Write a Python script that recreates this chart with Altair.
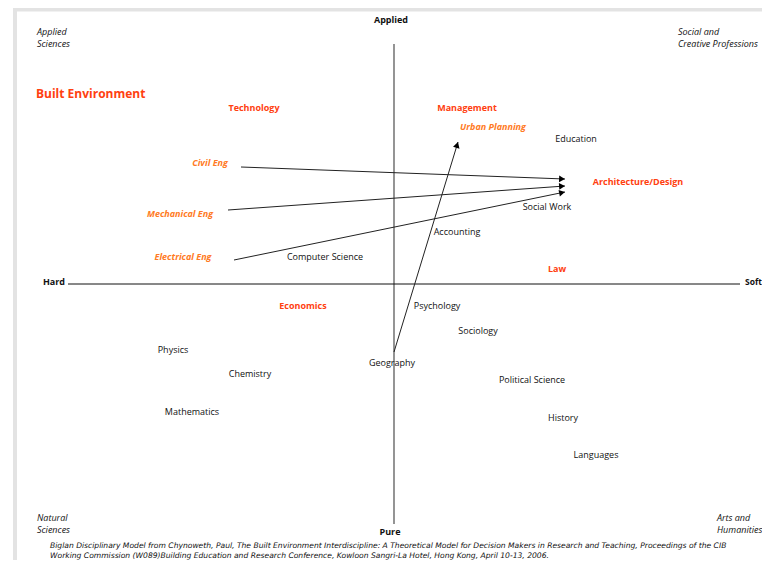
import altair as alt
import pandas as pd
import numpy as np

FONT = "Open Sans"
FOOT_FONT = "DejaVu Sans"

# ---- Discipline labels, positioned on the Hard(left)–Soft(right) / Pure(bottom)–Applied(top) plane
# (coordinates expressed in layout pixels of the 770x568 diagram)
disc_labels = ["Technology", "Management", "Architecture/Design", "Law", "Economics",
               "Urban Planning", "Civil Eng", "Mechanical Eng", "Electrical Eng",
               "Education", "Social Work", "Accounting", "Computer Science", "Psychology",
               "Sociology", "Physics", "Geography", "Chemistry", "Political Science",
               "Mathematics", "History", "Languages"]
disc_x = [254, 467, 638, 557, 303,
          493, 210, 180, 183,
          576, 547, 457, 325, 437,
          478, 173, 392, 250, 532,
          192, 563, 596]
disc_y = [108, 108, 182, 269, 306,
          127, 163, 214, 257,
          139, 207, 232, 257, 306,
          331, 350, 363, 374, 380,
          412, 418, 455]
disc_kind = ["red", "red", "red", "red", "red",
             "orange", "orange", "orange", "orange",
             "plain", "plain", "plain", "plain", "plain",
             "plain", "plain", "plain", "plain", "plain",
             "plain", "plain", "plain"]

# ---- Arrows (movement toward Architecture/Design and Urban Planning)
arrow_from = ["Civil Eng", "Mechanical Eng", "Electrical Eng", "Geography"]
arrow_x1 = [241, 228, 234, 394]
arrow_y1 = [167, 210, 260, 352]
arrow_x2 = [565, 565, 565, 458]
arrow_y2 = [179, 186, 192, 142]

# ---- Axis poles and quadrant captions
pole_labels = ["Applied", "Pure", "Hard"]
pole_x = [391, 390, 54]
pole_y = [20, 532, 282]
soft_label, soft_x, soft_y = "Soft", 762, 282

corner_labels = ["Applied\nSciences", "Social and\nCreative Professions",
                 "Natural\nSciences", "Arts and\nHumanities"]
corner_x = [37, 678, 37, 717]
corner_y = [28, 28, 514, 514]

title_text = "Built Environment"
title_x, title_y = 36, 94

foot_lines = ["Biglan Disciplinary Model from Chynoweth, Paul, The Built Environment Interdiscipline: A Theoretical Model for Decision Makers in Research and Teaching, Proceedings of the CIB\nWorking Commission (W089)Building Education and Research Conference, Kowloon Sangri-La Hotel, Hong Kong, April 10-13, 2006."]
foot_x, foot_y = [50], [542]

# axis lines of the diagram
center_x, center_y = 394, 284
vaxis = pd.DataFrame({"x": [center_x], "y": [44], "y2": [524]})
haxis = pd.DataFrame({"y": [center_y], "x": [68], "x2": [740]})

# frame (slide border)
frame_top = pd.DataFrame({"x": [13], "x2": [770], "y": [9.5]})
frame_left = pd.DataFrame({"x": [15], "y": [8], "y2": [568]})

W, H = 754, 552
xs = alt.Scale(domain=[8, 8 + W], nice=False, zero=False)
ys = alt.Scale(domain=[8, 8 + H], nice=False, zero=False, reverse=True)
X = lambda f: alt.X(f, type="quantitative", scale=xs, axis=None)
Y = lambda f: alt.Y(f, type="quantitative", scale=ys, axis=None)

disc = pd.DataFrame({"label": disc_labels, "x": disc_x, "y": disc_y, "kind": disc_kind})
arrows = pd.DataFrame({"name": arrow_from, "x1": arrow_x1, "y1": arrow_y1,
                       "x2": arrow_x2, "y2": arrow_y2})
dx = arrows.x2 - arrows.x1
dy = arrows.y2 - arrows.y1
ln = np.sqrt(dx ** 2 + dy ** 2)
arrows["angle"] = (np.degrees(np.arctan2(dy, dx)) % 360)
arrows["hx"] = arrows.x2 - 3 * dx / ln
arrows["hy"] = arrows.y2 - 3 * dy / ln

layers = []
layers.append(alt.Chart(frame_top).mark_rule(color="#e3e3e3", strokeWidth=4).encode(
    x=X("x"), x2="x2", y=Y("y")))
layers.append(alt.Chart(frame_left).mark_rule(color="#e3e3e3", strokeWidth=4).encode(
    x=X("x"), y=Y("y"), y2="y2"))
layers.append(alt.Chart(vaxis).mark_rule(color="#7a7a7a", strokeWidth=1.6).encode(
    x=X("x"), y=Y("y"), y2="y2"))
layers.append(alt.Chart(haxis).mark_rule(color="#111111", strokeWidth=1).encode(
    x=X("x"), x2="x2", y=Y("y")))
layers.append(alt.Chart(arrows).mark_rule(color="#222222", strokeWidth=1).encode(
    x=X("x1"), y=Y("y1"), x2="x2", y2="y2"))
layers.append(alt.Chart(arrows).mark_point(shape="triangle-right", filled=True, size=45,
                                           color="#000000", opacity=1).encode(
    x=X("hx"), y=Y("hy"), angle=alt.Angle("angle:Q", scale=None)))

# discipline labels
layers.append(alt.Chart(disc).transform_filter(alt.datum.kind == "plain").mark_text(
    font=FONT, fontSize=9, color="#111111").encode(x=X("x"), y=Y("y"), text="label"))
layers.append(alt.Chart(disc).transform_filter(alt.datum.kind == "red").mark_text(
    font=FONT, fontSize=9, fontWeight="bold", color="#ff4010").encode(
    x=X("x"), y=Y("y"), text="label"))
layers.append(alt.Chart(disc).transform_filter(alt.datum.kind == "orange").mark_text(
    font=FONT, fontSize=9, fontWeight="bold", fontStyle="italic", color="#ff7a24").encode(
    x=X("x"), y=Y("y"), text="label"))

poles = pd.DataFrame({"label": pole_labels, "x": pole_x, "y": pole_y})
layers.append(alt.Chart(poles).mark_text(font=FONT, fontSize=9, fontWeight="bold",
                                         color="#111111").encode(
    x=X("x"), y=Y("y"), text="label"))
soft = pd.DataFrame({"label": [soft_label], "x": [soft_x], "y": [soft_y]})
layers.append(alt.Chart(soft).mark_text(font=FONT, fontSize=8.5, fontWeight="bold",
                                        color="#111111", align="right").encode(
    x=X("x"), y=Y("y"), text="label"))

corners = pd.DataFrame({"label": corner_labels, "x": corner_x, "y": corner_y})
layers.append(alt.Chart(corners).mark_text(font=FONT, fontSize=9, fontStyle="italic",
                                           color="#111111", align="left", baseline="top",
                                           lineBreak="\n", lineHeight=12).encode(
    x=X("x"), y=Y("y"), text="label"))

title = pd.DataFrame({"label": [title_text], "x": [title_x], "y": [title_y]})
layers.append(alt.Chart(title).mark_text(font=FONT, fontSize=12, fontWeight="bold",
                                         color="#ff4010", align="left").encode(
    x=X("x"), y=Y("y"), text="label"))

foot = pd.DataFrame({"label": foot_lines, "x": foot_x, "y": foot_y})
layers.append(alt.Chart(foot).mark_text(font=FOOT_FONT, fontSize=7.6, fontStyle="italic",
                                        color="#111111", align="left", baseline="top",
                                        lineBreak="\n", lineHeight=9.5).encode(
    x=X("x"), y=Y("y"), text="label"))

chart = alt.layer(*layers).properties(
    width=W, height=H, padding=0, autosize=alt.AutoSizeParams(type="none")
).configure_view(stroke=None)

chart.save("out.html", embed_options={"renderer": "svg", "actions": False})
